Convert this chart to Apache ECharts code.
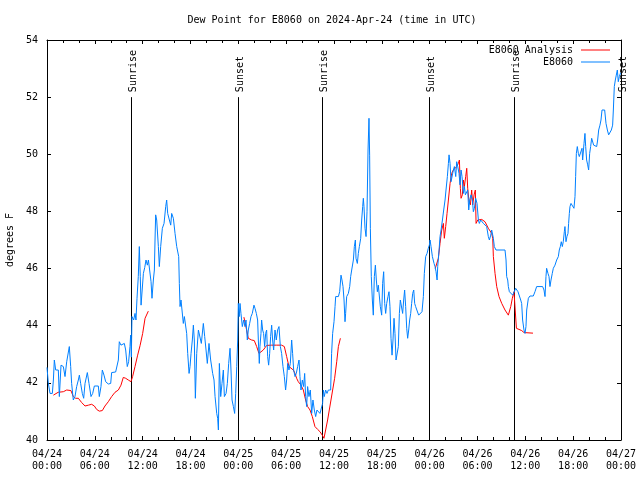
<!DOCTYPE html>
<html><head><meta charset="utf-8">
<script src="https://cdn.jsdelivr.net/npm/echarts@6/dist/echarts.min.js"></script>
<style>html,body{margin:0;padding:0;background:#fff}#c{width:640px;height:480px}</style>
</head><body><div id="c"></div>
<script>
const FONT = 'DejaVu Sans Mono';
const chartTitle = 'Dew Point for E8060 on 2024-Apr-24 (time in UTC)';
const yAxisName = 'degrees F';
const xTickLabels = ['04/24\n00:00','04/24\n06:00','04/24\n12:00','04/24\n18:00','04/25\n00:00','04/25\n06:00','04/25\n12:00','04/25\n18:00','04/26\n00:00','04/26\n06:00','04/26\n12:00','04/26\n18:00','04/27\n00:00'];
const sunTimes = [10.53, 23.92, 34.53, 47.96, 58.64, 72.0];
const sunLabels = ['Sunrise','Sunset','Sunrise','Sunset','Sunrise','Sunset'];

// hours since 04/24 00:00 UTC, degrees F
const stationData = [[0,42.54],[0.17,41.98],[0.38,41.63],[0.67,41.63],[0.8,42.1],[0.92,42.8],[1.09,42.45],[1.42,42.45],[1.55,41.52],[1.76,42.62],[2.05,42.57],[2.26,42.22],[2.47,42.74],[2.68,42.8],[2.8,43.27],[2.97,42.57],[3.09,41.98],[3.3,41.4],[3.51,41.52],[3.72,41.87],[3.93,42.1],[4.06,42.27],[4.22,41.98],[4.43,41.63],[4.6,41.46],[4.77,41.98],[5.06,42.36],[5.27,41.98],[5.52,41.52],[5.73,41.63],[5.94,41.89],[6.44,41.89],[6.56,41.52],[6.77,41.87],[6.94,42.45],[7.15,42.27],[7.36,42.04],[7.69,41.96],[7.99,41.98],[8.11,42.36],[8.61,42.38],[8.86,42.36],[8.95,42.8],[9.07,43.44],[9.28,43.32],[9.49,43.32],[9.7,43.38],[9.87,43.15],[10.07,42.57],[10.24,42.74],[10.41,43.27],[10.49,43.67],[10.58,42.9],[10.66,44.32],[10.87,44.2],[11.04,44.43],[11.16,44.2],[11.29,44.96],[11.45,45.72],[11.58,46.77],[11.7,45.72],[11.8,44.72],[12.0,44.67],[12.09,45.83],[12.26,46.04],[12.42,46.3],[12.59,46.12],[12.72,46.3],[12.92,46.24],[13.05,45.54],[13.17,44.96],[13.34,45.6],[13.47,45.95],[13.55,47.0],[13.63,47.88],[13.76,47.7],[13.97,46.77],[14.09,46.07],[14.26,46.77],[14.47,47.41],[14.68,47.58],[14.89,48.17],[15.01,48.4],[15.14,47.93],[15.35,47.7],[15.52,47.52],[15.64,47.93],[15.85,47.76],[16.06,47.23],[16.27,46.77],[16.52,46.42],[16.6,45.48],[16.69,44.67],[16.81,44.9],[16.98,44.96],[17.1,44.08],[17.23,44.32],[17.44,44.37],[17.52,43.73],[17.65,43.03],[17.82,42.33],[17.94,42.57],[18.07,43.03],[18.23,43.5],[18.36,44.02],[18.48,43.5],[18.61,41.46],[18.78,43.03],[18.99,43.85],[19.2,43.85],[19.36,43.38],[19.61,44.08],[19.78,43.62],[19.95,43.15],[20.11,42.68],[20.32,43.38],[20.53,42.8],[20.78,42.33],[20.95,42.1],[21.08,41.52],[21.29,40.93],[21.41,40.76],[21.5,40.35],[21.62,42.68],[21.79,41.52],[21.95,41.98],[22.12,42.45],[22.25,41.52],[22.46,41.63],[22.62,41.98],[22.79,42.68],[22.96,43.21],[23.08,42.45],[23.21,41.4],[23.38,41.17],[23.54,40.93],[23.67,41.63],[23.8,42.57],[23.92,43.5],[24.0,44.78],[24.12,44.32],[24.21,44.78],[24.33,44.43],[24.5,43.97],[24.67,44.2],[24.83,43.97],[24.96,44.2],[25.13,43.5],[25.25,43.85],[25.42,44.08],[25.59,44.32],[25.75,44.43],[25.96,44.72],[26.09,44.61],[26.26,44.43],[26.42,44.2],[26.51,43.5],[26.63,42.68],[26.71,43.27],[26.84,43.73],[26.92,44.2],[27.05,43.85],[27.17,43.73],[27.3,43.27],[27.43,43.73],[27.55,43.85],[27.68,42.92],[27.8,42.62],[27.93,43.03],[28.05,43.62],[28.18,44.02],[28.3,43.5],[28.43,43.15],[28.6,43.85],[28.76,43.5],[28.93,43.85],[29.1,43.97],[29.27,43.27],[29.43,43.03],[29.6,42.57],[29.77,42.22],[29.93,41.75],[30.06,42.1],[30.19,42.68],[30.35,42.45],[30.52,42.68],[30.69,43.5],[30.81,43.03],[30.94,42.45],[31.11,42.22],[31.27,42.33],[31.44,42.57],[31.61,42.8],[31.73,42.22],[31.86,41.75],[32.03,42.1],[32.19,41.87],[32.32,42.33],[32.44,41.52],[32.57,41.17],[32.69,41.87],[32.86,41.52],[33.03,41.75],[33.2,40.93],[33.36,41.4],[33.53,41.05],[33.7,40.82],[33.86,41.05],[34.03,40.99],[34.24,40.93],[34.45,40.93],[34.57,41.28],[34.66,41.75],[34.78,41.52],[34.95,41.75],[35.12,41.63],[35.29,41.75],[35.58,41.75],[35.7,43.03],[35.83,43.73],[36.0,44.14],[36.13,44.67],[36.21,45.02],[36.55,45.02],[36.71,45.19],[36.88,45.77],[37.0,45.6],[37.13,45.37],[37.26,44.9],[37.38,44.14],[37.46,44.43],[37.59,45.02],[37.8,45.13],[37.97,45.37],[38.09,45.72],[38.22,45.95],[38.43,46.3],[38.55,46.77],[38.68,47.0],[38.76,46.36],[38.93,46.18],[39.05,46.53],[39.18,46.77],[39.35,47.06],[39.47,47.7],[39.6,48.17],[39.68,48.46],[39.76,48.17],[39.89,47.41],[40.02,47.12],[40.14,47.99],[40.27,50.15],[40.39,51.26],[40.47,49.97],[40.56,47.41],[40.68,45.72],[40.81,44.9],[40.93,44.37],[41.06,45.72],[41.19,46.12],[41.31,45.6],[41.44,45.19],[41.56,45.42],[41.69,45.48],[41.81,44.67],[41.98,44.37],[42.1,45.48],[42.23,45.89],[42.36,44.78],[42.48,44.43],[42.61,44.78],[42.77,45.02],[42.9,45.19],[43.02,44.67],[43.15,43.56],[43.28,42.97],[43.4,43.5],[43.53,44.26],[43.65,43.73],[43.78,42.8],[43.99,42.8],[44.07,43.27],[44.2,44.43],[44.32,44.9],[44.49,44.9],[44.61,44.43],[44.74,44.9],[44.86,45.25],[44.99,44.67],[45.12,43.91],[45.24,43.56],[45.37,43.85],[45.49,44.2],[45.62,44.43],[45.74,44.78],[45.87,45.13],[46.0,45.25],[46.12,44.78],[46.24,44.67],[46.45,44.61],[46.62,44.37],[46.87,44.37],[47.04,44.49],[47.21,45.02],[47.33,45.83],[47.5,46.42],[47.67,46.53],[47.83,46.71],[47.96,46.82],[48.05,47.0],[48.17,46.77],[48.34,46.42],[48.55,46.18],[48.67,46.07],[48.8,45.89],[48.93,45.6],[49.01,46.07],[49.18,46.65],[49.3,47.12],[49.43,47.35],[49.6,47.7],[49.76,48.05],[49.93,48.4],[50.05,48.75],[50.22,49.22],[50.35,49.68],[50.43,49.98],[50.56,49.68],[50.68,49.04],[50.85,49.1],[50.97,49.45],[51.1,49.57],[51.27,49.22],[51.39,49.74],[51.52,49.57],[51.68,49.33],[51.81,48.93],[51.94,49.45],[52.06,49.22],[52.23,48.63],[52.35,48.87],[52.48,48.58],[52.65,48.63],[52.77,48.75],[52.9,48.05],[53.02,48.4],[53.19,48.58],[53.36,48.4],[53.48,47.99],[53.61,48.11],[53.77,48.46],[53.94,48.28],[54.11,47.7],[54.23,47.58],[54.4,47.7],[54.53,47.64],[54.74,47.58],[54.94,47.52],[55.15,47.47],[55.36,47.12],[55.49,47.0],[55.66,47.17],[55.78,47.35],[55.99,47.06],[56.11,46.77],[56.32,46.65],[57.45,46.65],[57.58,46.3],[57.66,45.72],[57.79,45.6],[57.87,45.37],[58.0,45.19],[58.21,45.13],[58.42,45.07],[58.58,45.02],[58.79,45.31],[58.92,45.37],[59.08,45.19],[59.25,45.13],[59.42,44.9],[59.54,44.78],[59.66,44.2],[59.83,43.85],[59.96,43.73],[60.08,43.97],[60.17,44.55],[60.38,44.96],[60.58,45.04],[61.0,45.04],[61.21,45.19],[61.42,45.37],[62.17,45.37],[62.34,45.25],[62.47,45.02],[62.59,45.72],[62.67,46.01],[62.84,45.83],[62.97,45.72],[63.09,45.37],[63.22,45.6],[63.38,45.83],[63.51,46.01],[63.72,46.12],[63.93,46.3],[64.14,46.42],[64.26,46.65],[64.39,46.77],[64.51,46.94],[64.64,46.77],[64.76,46.94],[64.89,47.29],[64.97,47.47],[65.1,46.94],[65.22,47.12],[65.35,47.23],[65.43,47.58],[65.52,47.93],[65.6,48.17],[65.73,48.28],[65.94,48.28],[66.1,48.11],[66.23,48.52],[66.31,49.22],[66.4,50.03],[66.52,50.27],[66.65,50.03],[66.77,49.92],[66.94,49.86],[67.11,50.21],[67.19,49.8],[67.36,50.38],[67.48,50.73],[67.57,50.27],[67.69,49.8],[67.82,49.63],[67.94,49.45],[68.07,50.03],[68.19,50.27],[68.32,50.56],[68.44,50.62],[68.57,50.32],[68.69,50.27],[68.95,50.27],[69.07,50.5],[69.2,50.85],[69.36,51.02],[69.49,51.2],[69.62,51.55],[69.95,51.55],[70.12,51.08],[70.29,50.85],[70.45,50.68],[70.62,50.68],[70.79,50.85],[70.95,51.02],[71.04,51.55],[71.16,52.37],[71.29,52.6],[71.41,52.77],[71.54,52.95],[71.66,52.54],[71.79,52.72],[71.95,52.85]];

const analysisDay1 = [[0.8,41.57],[1.4,41.67],[2.05,41.69],[2.47,41.75],[3.0,41.73],[3.3,41.52],[3.6,41.46],[3.93,41.46],[4.35,41.31],[4.77,41.19],[5.2,41.22],[5.6,41.25],[5.94,41.19],[6.23,41.07],[6.56,41.01],[6.94,41.03],[7.27,41.19],[7.69,41.34],[8.11,41.52],[8.53,41.67],[8.95,41.75],[9.28,41.92],[9.57,42.19],[9.87,42.16],[10.2,42.1],[10.53,42.04],[10.74,42.22],[11.04,42.57],[11.37,42.97],[11.67,43.3],[12.0,43.73],[12.3,44.26],[12.71,44.51]];
const analysisDay2 = [[24.7,44.3],[25.04,43.85],[25.25,43.56],[25.67,43.5],[26.0,43.48],[26.3,43.27],[26.59,43.03],[26.84,43.03],[27.13,43.15],[27.55,43.31],[28.18,43.32],[28.81,43.32],[29.43,43.32],[29.77,43.27],[30.06,42.92],[30.35,42.57],[30.6,42.51],[30.9,42.45],[31.11,42.33],[31.31,42.16],[31.52,42.04],[31.86,41.92],[32.15,41.75],[32.44,41.4],[32.69,41.17],[32.99,41.05],[33.28,40.82],[33.61,40.47],[33.95,40.37],[34.24,40.29],[34.53,40.17],[34.74,40.06],[34.95,40.35],[35.2,40.7],[35.41,41.05],[35.62,41.4],[35.83,41.75],[36.08,42.16],[36.34,42.74],[36.55,43.27],[36.8,43.56]];
const analysisDay3 = [[48.7,46.0],[48.88,46.05],[49.09,46.36],[49.3,46.88],[49.51,47.35],[49.72,47.58],[49.84,47.06],[50.01,47.47],[50.18,47.93],[50.35,48.4],[50.56,48.98],[50.76,49.33],[50.97,49.45],[51.18,49.51],[51.39,49.57],[51.6,49.68],[51.73,49.8],[51.85,48.81],[51.94,48.46],[52.1,48.58],[52.23,49.1],[52.35,48.87],[52.52,49.22],[52.65,49.51],[52.77,48.81],[52.94,48.34],[53.11,48.23],[53.27,48.75],[53.4,48.23],[53.57,48.58],[53.73,48.75],[53.82,47.58],[54.03,47.7],[54.23,47.76],[54.53,47.72],[54.74,47.76],[54.94,47.64],[55.15,47.58],[55.36,47.41],[55.57,47.35],[55.78,47.23],[55.91,47.06],[55.99,46.42],[56.2,45.83],[56.41,45.37],[56.7,45.02],[57.04,44.78],[57.45,44.55],[57.87,44.37],[58.17,44.67],[58.37,44.96],[58.58,45.19],[58.71,45.25],[58.79,45.13],[58.88,43.91],[59.13,43.87],[59.54,43.83],[59.84,43.76],[60.96,43.74]];

const analysisData = analysisDay1.concat([[12.8,'-']], analysisDay2, [[36.9,'-']], analysisDay3);

const txt = {color:'#000', fontFamily:FONT, fontSize:10};
const black = {color:'#000', width:1};
function xAxisDef(pos, labels){
  return {type:'value', position:pos, min:0, max:72, interval:6,
    axisLine:{show:true, onZero:false, lineStyle:black},
    axisTick:{show:true, inside:true, length:4, lineStyle:black},
    minorTick:{show:true, splitNumber:3, length:3, lineStyle:black},
    splitLine:{show:false},
    axisLabel:{show:labels, formatter:v=>xTickLabels[Math.round(v/6)], lineHeight:12, margin:8, ...txt}};
}
function yAxisDef(pos, labels){
  const a = {type:'value', position:pos, min:40, max:54, interval:2,
    axisLine:{show:true, onZero:false, lineStyle:black},
    axisTick:{show:true, inside:true, length:4, lineStyle:black},
    splitLine:{show:false},
    axisLabel:{show:labels, margin:9, ...txt}};
  if(labels){ a.name = yAxisName; a.nameLocation='middle'; a.nameGap=32; a.nameTextStyle={...txt}; }
  return a;
}
const chart = echarts.init(document.getElementById('c'), null, {renderer:'canvas'});
chart.setOption({
  animation:false,
  backgroundColor:'#fff',
  title:{text:chartTitle, left:327, top:10, textAlign:'center', textStyle:{...txt, fontWeight:'normal'}},
  grid:{left:47, right:19, top:40, bottom:40, containLabel:false, outerBoundsMode:'none'},
  legend:{data:[{name:'E8060 Analysis', icon:'rect'},{name:'E8060', icon:'rect'}], orient:'vertical', right:25, top:39, align:'right',
    itemWidth:29, itemHeight:1, itemGap:0, textStyle:{...txt, lineHeight:12, padding:[0,3,0,0]}},
  xAxis:[xAxisDef('bottom', true), xAxisDef('top', false)],
  yAxis:[yAxisDef('left', true), yAxisDef('right', false)],
  series:[
    {type:'custom', clip:false, silent:true, z:1, xAxisIndex:0, yAxisIndex:0,
     data:sunTimes.map(t=>[t,52,40]),
     renderItem:(params, api)=>{
       const top = api.coord([api.value(0), api.value(1)]);
       const bot = api.coord([api.value(0), api.value(2)]);
       const x = Math.round(top[0]) + 0.5;
       return {type:'group', children:[
         {type:'line', shape:{x1:x, y1:top[1], x2:x, y2:bot[1]}, style:{stroke:'#000', lineWidth:1}},
         {type:'text', x:x+1.5, y:top[1]-5, rotation:Math.PI/2,
          style:{text:sunLabels[params.dataIndex], textAlign:'left', textVerticalAlign:'middle',
                 font:'10px "DejaVu Sans Mono"', fill:'#000'}}
       ]};
     }},
    {name:'E8060 Analysis', type:'line', data:analysisData, symbol:'none', showSymbol:false,
     connectNulls:false, lineStyle:{color:'#ff0000', width:1}, itemStyle:{color:'#ff0000'}, z:2},
    {name:'E8060', type:'line', data:stationData, symbol:'none', showSymbol:false,
     lineStyle:{color:'#0080ff', width:1}, itemStyle:{color:'#0080ff'}, z:3}
  ]
});
</script></body></html>
